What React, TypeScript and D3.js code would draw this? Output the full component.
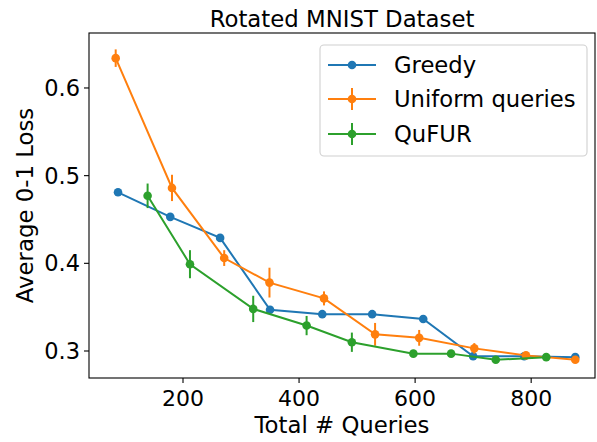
import React from 'react';
import * as d3 from 'd3';

// values
const greedyX = [88, 178, 264, 350, 440, 526, 614, 700, 788, 876];
const greedyY = [0.481, 0.453, 0.429, 0.347, 0.342, 0.342, 0.3365, 0.294, 0.294, 0.293];

const uniformX = [84, 181, 271, 349, 443, 531, 607, 702, 791, 876];
const uniformY = [0.634, 0.486, 0.406, 0.378, 0.36, 0.319, 0.315, 0.303, 0.295, 0.29];
const uniformErr = [0.01, 0.015, 0.009, 0.017, 0.008, 0.013, 0.009, 0.006, 0.003, 0.002];

const qufurX = [139, 212, 321, 413, 491, 597, 662, 739, 826];
const qufurY = [0.477, 0.399, 0.348, 0.329, 0.31, 0.297, 0.297, 0.29, 0.293];
const qufurErr = [0.014, 0.016, 0.015, 0.011, 0.011, 0.002, 0.002, 0.002, 0.002];

const xTicks = [200, 400, 600, 800];
const yTicks = [0.3, 0.4, 0.5, 0.6];

const seriesNames = ['Greedy', 'Uniform queries', 'QuFUR'];
const colors = ['#1f77b4', '#ff7f0e', '#2ca02c'];

const width = 597;
const height = 442;
const margin = { top: 33, right: 2, bottom: 64, left: 89 };
const font = 'DejaVu Sans, sans-serif';

const App: React.FC = () => {
  const x = d3.scaleLinear().domain([38, 910]).range([margin.left, width - margin.right]);
  const y = d3.scaleLinear().domain([0.2692, 0.6627]).range([height - margin.bottom, margin.top]);

  const series = [
    { xs: greedyX, ys: greedyY, err: null as number[] | null },
    { xs: uniformX, ys: uniformY, err: uniformErr },
    { xs: qufurX, ys: qufurY, err: qufurErr },
  ];

  const line = d3.line<[number, number]>().x(d => x(d[0])).y(d => y(d[1]));

  const plotW = width - margin.left - margin.right;
  const plotH = height - margin.top - margin.bottom;
  const cx = margin.left + plotW / 2;

  // legend box
  const lg = { x: 320, y: 45, w: 267, h: 111 };
  const rowY = [65, 99, 134];

  return (
    <svg width={width} height={height} style={{ position: 'absolute', left: 0, top: 0 }} fontFamily={font}>
      <rect width={width} height={height} fill="#fff" />

      {series.map((s, i) => {
        const pts = s.xs.map((v, j) => [v, s.ys[j]] as [number, number]);
        return (
          <g key={i}>
            <path d={line(pts) || ''} fill="none" stroke={colors[i]} strokeWidth={2} />
            {s.err && s.xs.map((v, j) => (
              <line key={'e' + j} x1={x(v)} x2={x(v)} y1={y(s.ys[j] - s.err![j])} y2={y(s.ys[j] + s.err![j])}
                stroke={colors[i]} strokeWidth={2} />
            ))}
            {s.xs.map((v, j) => (
              <circle key={j} cx={x(v)} cy={y(s.ys[j])} r={4.3} fill={colors[i]} />
            ))}
          </g>
        );
      })}

      {/* frame */}
      <rect x={margin.left} y={margin.top} width={plotW} height={plotH} fill="none" stroke="#000" strokeWidth={1.1} />

      {/* x axis */}
      {xTicks.map(t => (
        <g key={t} transform={`translate(${x(t)},${height - margin.bottom})`}>
          <line y2={5} stroke="#000" strokeWidth={1.1} />
          <text y={28} textAnchor="middle" fontSize={22} fill="#000">{t}</text>
        </g>
      ))}
      <text x={cx} y={433} textAnchor="middle" fontSize={22.8} fill="#000">Total # Queries</text>

      {/* y axis */}
      {yTicks.map(t => (
        <g key={t} transform={`translate(${margin.left},${y(t)})`}>
          <line x2={-5} stroke="#000" strokeWidth={1.1} />
          <text x={-9} dy="0.36em" textAnchor="end" fontSize={22.5} fill="#000">{d3.format('.1f')(t)}</text>
        </g>
      ))}
      <text transform={`translate(33,${margin.top + plotH / 2}) rotate(-90)`} textAnchor="middle" fontSize={22.8} fill="#000">
        Average 0-1 Loss
      </text>

      {/* title */}
      <text x={cx} y={27} textAnchor="middle" fontSize={22.8} fill="#000">Rotated MNIST Dataset</text>

      {/* legend */}
      <rect x={lg.x} y={lg.y} width={lg.w} height={lg.h} rx={4} fill="#fff" fillOpacity={0.8} stroke="#d0d0d0" strokeWidth={1.1} />
      {seriesNames.map((name, i) => (
        <g key={name}>
          <line x1={328} x2={376} y1={rowY[i]} y2={rowY[i]} stroke={colors[i]} strokeWidth={2} />
          {i > 0 && <line x1={352} x2={352} y1={rowY[i] - 11} y2={rowY[i] + 11} stroke={colors[i]} strokeWidth={2} />}
          <circle cx={352} cy={rowY[i]} r={4.3} fill={colors[i]} />
          <text x={394} y={rowY[i]} dy="0.36em" fontSize={22.7} fill="#000">{name}</text>
        </g>
      ))}
    </svg>
  );
};

export default App;
